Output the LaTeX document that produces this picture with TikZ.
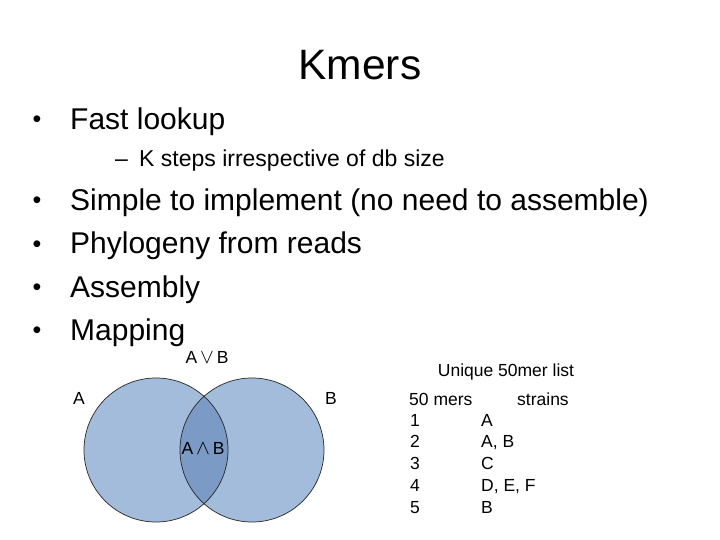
\documentclass[tikz,border=0pt]{standalone}
\usepackage{fontspec}
\setmainfont{Liberation Sans}
\newcommand{\bigsym}[1]{{\fontsize{21}{20}\selectfont$#1$}}
\definecolor{vennfill}{RGB}{164,188,219}
\definecolor{venndark}{RGB}{124,154,198}
\begin{document}
\begin{tikzpicture}[x=1pt,y=-1pt,
  title/.style={anchor=base,inner sep=0pt,font=\fontsize{42.5}{46}\selectfont},
  mainitem/.style={anchor=base west,inner sep=0pt,font=\fontsize{30}{34}\selectfont},
  bul/.style={anchor=base,inner sep=0pt,font=\fontsize{25}{28}\selectfont},
  subitem/.style={anchor=base west,inner sep=0pt,font=\fontsize{23}{28}\selectfont},
  small/.style={anchor=base west,inner sep=0pt,font=\fontsize{17.5}{20}\selectfont},
  smallc/.style={anchor=base,inner sep=0pt,font=\fontsize{17.5}{20}\selectfont},
  vennline/.style={draw=black!85,line width=0.7pt}]
\useasboundingbox (0,0) rectangle (720,540);
\fill[white] (0,0) rectangle (720,540);
% title
\node[title] (t) at (360,80) {Kmers};
% bullets
\node[bul] (b1) at (37,128) {•};
\node[mainitem] (l1) at (70,130) {Fast lookup};
\node[subitem] (d1) at (115,167) {–};
\node[subitem] (s1) at (139,167) {K steps irrespective of db size};
\node[bul] (b2) at (37,209) {•};
\node[mainitem] (l2) at (70,211) {Simple to implement (no need to assemble)};
\node[bul] (b3) at (37,252) {•};
\node[mainitem] (l3) at (70,254) {Phylogeny from reads};
\node[bul] (b4) at (37,295) {•};
\node[mainitem] (l4) at (70,297) {Assembly};
\node[bul] (b5) at (37,338) {•};
\node[mainitem] (l5) at (70,340) {Mapping};
% venn
\fill[vennfill] (156,450) circle (72);
\fill[vennfill] (252,450) circle (72);
\begin{scope}
  \clip (156,450) circle (72);
  \fill[venndark] (252,450) circle (72);
\end{scope}
\draw[vennline] (156,450) circle (72);
\draw[vennline] (252,450) circle (72);
\node[smallc] (or) at (207,363) {A\,\bigsym{\vee}\,B};
\node[smallc] (la) at (79,404) {A};
\node[smallc] (lb) at (331,404) {B};
\node[smallc] (and) at (203,454) {A\,\bigsym{\wedge}\,B};
% table
\node[smallc] (u) at (506,376) {Unique 50mer list};
\node[small] (h1) at (409,405) {50 mers};
\node[small] (h2) at (517,405) {strains};
\node[small] (r1) at (410,426) {1};
\node[small] (r2) at (410,447) {2};
\node[small] (r3) at (410,469) {3};
\node[small] (r4) at (410,491) {4};
\node[small] (r5) at (410,513) {5};
\node[small] (c1) at (481,426) {A};
\node[small] (c2) at (481,447) {A, B};
\node[small] (c3) at (481,469) {C};
\node[small] (c4) at (481,491) {D, E, F};
\node[small] (c5) at (481,513) {B};
\end{tikzpicture}
\end{document}
